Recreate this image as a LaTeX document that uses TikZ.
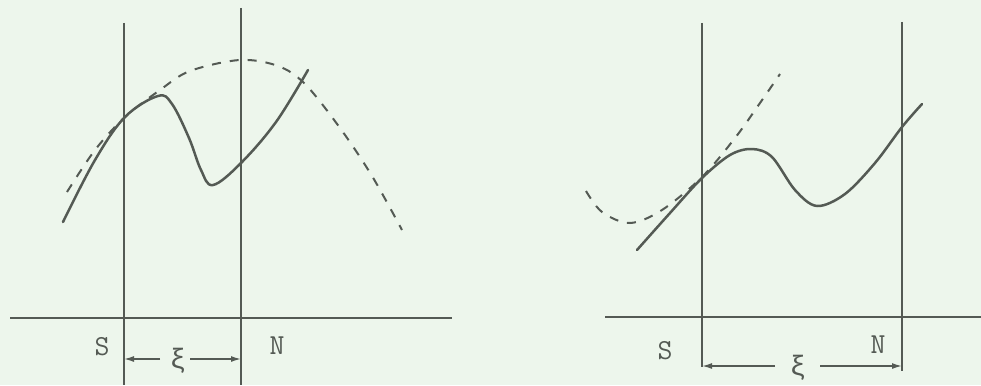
\documentclass[tikz,border=0pt]{standalone}
\usepackage{fontspec}
\newfontfamily\greekmono{Liberation Mono}
\usetikzlibrary{arrows.meta}
\definecolor{bg}{RGB}{237,246,236}
\definecolor{ink}{RGB}{84,90,84}
\tikzset{
  guide/.style={draw=ink, line width=1.4pt},
  curve/.style={draw=ink, line width=2.5pt, line cap=round, line join=round},
  dcurve/.style={draw=ink, line width=2pt, dash pattern=on 9pt off 9pt},
  lbl/.style={text=ink, font=\ttfamily\fontsize{29}{29}\selectfont, inner sep=0pt},
  glbl/.style={text=ink, font=\greekmono\fontsize{28}{28}\selectfont, inner sep=0pt},
  dim/.style={draw=ink, line width=1.5pt, -{Latex[length=10pt,width=6pt]}}
}
\begin{document}
\begin{tikzpicture}[x=1pt,y=-1pt]
\fill[bg] (0,0) rectangle (981,385);
\useasboundingbox (0,0) rectangle (981,385);
% ---------- left panel ----------
\coordinate (LSt) at (124,23);
\coordinate (LSb) at (124,385);
\coordinate (LNt) at (241,8);
\coordinate (LNb) at (241,385);
\coordinate (LA1) at (10,318);
\coordinate (LA2) at (452,318);
\draw[guide] (LSt) -- (LSb);
\draw[guide] (LNt) -- (LNb);
\draw[guide] (LA1) -- (LA2);
\node[lbl] (LS) at (102,347) {S};
\node[lbl] (LN) at (277,346) {N};
\node[glbl] (LX) at (178,361) {ξ};
\coordinate (LSx) at (124,359);
\coordinate (LNx) at (241,359);
\coordinate (LXl) at (160,359);
\coordinate (LXr) at (190,359);
\draw[dim] (LXl) -- (LSx);
\draw[dim] (LXr) -- (LNx);
\draw[dcurve] plot[smooth, tension=0.55] coordinates {(67,192) (95,150) (125,117) (160,90) (190,71) (240,60) (278,66) (305,84) (340,128) (372,176) (402,230)};
\draw[curve] plot[smooth, tension=0.6] coordinates {(63,222) (95,160) (125,117) (158,96) (172,104) (189,138) (201,170) (213,185) (241,163) (276,122) (308,70)};
% ---------- right panel ----------
\coordinate (RSt) at (702,23);
\coordinate (RSb) at (702,367);
\coordinate (RNt) at (902,22);
\coordinate (RNb) at (902,371);
\coordinate (RA1) at (605,317);
\coordinate (RA2) at (981,317);
\draw[guide] (RSt) -- (RSb);
\draw[guide] (RNt) -- (RNb);
\draw[guide] (RA1) -- (RA2);
\node[lbl] (RS) at (665,351) {S};
\node[lbl] (RN) at (878,345) {N};
\node[glbl] (RX) at (798,368) {ξ};
\coordinate (RSx) at (702,366);
\coordinate (RNx) at (902,366);
\coordinate (RXl) at (775,366);
\coordinate (RXr) at (820,366);
\draw[dim] (RXl) -- (RSx);
\draw[dim] (RXr) -- (RNx);
\draw[dcurve] plot[smooth, tension=0.55] coordinates {(586,191) (602,212) (630,223) (662,210) (702,177) (735,138) (760,103) (780,74)};
\draw[curve] plot[smooth, tension=0.55] coordinates {(637,250) (670,213) (702,178) (730,155) (752,149) (772,157) (795,190) (817,206) (845,194) (875,163) (902,127) (922,104)};
\end{tikzpicture}
\end{document}
